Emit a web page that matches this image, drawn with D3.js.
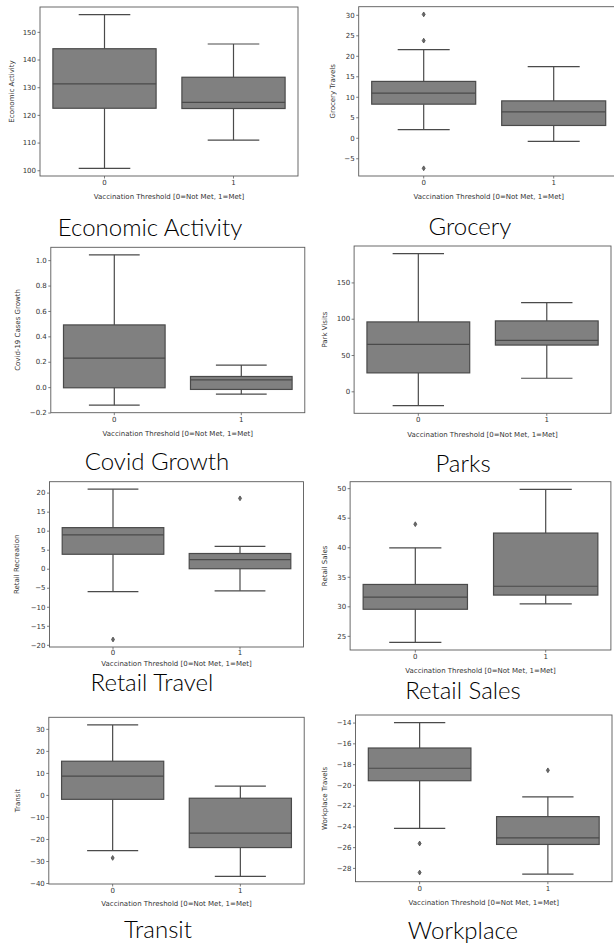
<!DOCTYPE html>
<html>
<head>
<meta charset="utf-8">
<script src="https://cdn.jsdelivr.net/npm/d3@7"></script>
<style>
  html, body { margin: 0; padding: 0; background: #ffffff; }
  svg { display: block; }
</style>
</head>
<body>
<svg id="chart" width="614" height="948"></svg>
<script>
// ---------------- DATA ----------------
const panelTitles = ["Economic Activity", "Grocery", "Covid Growth", "Parks",
                     "Retail Travel", "Retail Sales", "Transit", "Workplace"];
const yAxisLabels = ["Economic Activity", "Grocery Travels", "Covid-19 Cases Growth", "Park Visits",
                     "Retail Recreation", "Retail Sales", "Transit", "Workplace Travels"];
const categories = ["0", "1"];
const xAxisLabel = "Vaccination Threshold [0=Not Met, 1=Met]";

// box stats per panel, per category: [lower whisker, Q1, median, Q3, upper whisker]
const economicStats   = [[100.7, 122.4, 131.2, 143.9, 156.2], [110.9, 122.3, 124.5, 133.6, 145.6]];
const groceryStats    = [[2.0, 8.2, 10.9, 13.75, 21.5], [-0.9, 3.0, 6.3, 9.0, 17.35]];
const covidStats      = [[-0.142, -0.005, 0.229, 0.49, 1.042], [-0.055, -0.018, 0.058, 0.084, 0.174]];
const parksStats      = [[-19.8, 25.4, 64.7, 95.6, 189.7], [18.0, 63.7, 70.2, 97.0, 122.3]];
const retailTravStats = [[-6.0, 3.8, 8.9, 10.8, 20.9], [-5.8, 0.0, 2.4, 4.0, 5.9]];
const retailSaleStats = [[23.9, 29.5, 31.55, 33.7, 39.9], [30.4, 31.9, 33.4, 42.4, 49.8]];
const transitStats    = [[-25.3, -2.0, 8.5, 15.3, 31.8], [-37.0, -23.9, -17.3, -1.5, 4.0]];
const workplaceStats  = [[-24.2, -19.6, -18.4, -16.45, -14.0], [-28.6, -25.74, -25.1, -23.06, -21.15]];

// outliers per panel, per category
const economicOut   = [[], []];
const groceryOut    = [[30.1, 23.7, -7.45], []];
const covidOut      = [[], []];
const parksOut      = [[], []];
const retailTravOut = [[-18.6], [18.5]];
const retailSaleOut = [[43.9], []];
const transitOut    = [[-28.6], []];
const workplaceOut  = [[-25.65, -28.45], [-18.6]];

// y tick labels per panel
const economicTicks   = [100, 110, 120, 130, 140, 150];
const groceryTicks    = [-5, 0, 5, 10, 15, 20, 25, 30];
const covidTicks      = [-0.2, 0.0, 0.2, 0.4, 0.6, 0.8, 1.0];
const parksTicks      = [0, 50, 100, 150];
const retailTravTicks = [-20, -15, -10, -5, 0, 5, 10, 15, 20];
const retailSaleTicks = [25, 30, 35, 40, 45, 50];
const transitTicks    = [-40, -30, -20, -10, 0, 10, 20, 30];
const workplaceTicks  = [-28, -26, -24, -22, -20, -18, -16, -14];

const allStats = [economicStats, groceryStats, covidStats, parksStats, retailTravStats, retailSaleStats, transitStats, workplaceStats];
const allOut   = [economicOut, groceryOut, covidOut, parksOut, retailTravOut, retailSaleOut, transitOut, workplaceOut];
const allTicks = [economicTicks, groceryTicks, covidTicks, parksTicks, retailTravTicks, retailSaleTicks, transitTicks, workplaceTicks];
const tickFormats = ["d", "d", ".1f", "d", "d", "d", "d", "d"];

// ---------------- LAYOUT ----------------
// plot frame [x0, y0, x1, y1], y-label x, x-label offset, title centre [x, y]
const layout = [
  { frame: [40, 7, 298, 176],           ylx: 12,  xlo: 21, tp: 1.5, title: [150, 228] },
  { frame: [358.7, 6.7, 618.7, 176],    ylx: 333, xlo: 21, tp: 1.5, title: [470, 227] },
  { frame: [50.8, 247.3, 304.8, 412.7], ylx: 18,  xlo: 21, tp: 1.5, title: [157, 462] },
  { frame: [354.1, 246, 611, 413.3],    ylx: 325, xlo: 21, tp: 1.5, title: [463, 464] },
  { frame: [49.5, 481.7, 303.5, 647],   ylx: 17,  xlo: 17, tp: 0.5, title: [152, 683] },
  { frame: [350.1, 481.7, 610.9, 650],  ylx: 325, xlo: 21, tp: 1.5, title: [463, 691] },
  { frame: [48.8, 717.3, 304.2, 884],   ylx: 18,  xlo: 20, tp: 1.5, title: [158, 930] },
  { frame: [355.5, 715, 612, 881.7],    ylx: 325, xlo: 21, tp: 1.5, title: [463, 931] }
];

const FILL = "#808080", EDGE = "#4a4a4a", FRAME = "#5a5a5a", TXT = "#333333";
const svg = d3.select("#chart");

panelTitles.forEach((title, i) => {
  const L = layout[i];
  const [x0, y0, x1, y1] = L.frame;
  const stats = allStats[i], outs = allOut[i];

  // matplotlib-like autoscale: data range with 5% margins
  const vals = stats.flat().concat(outs.flat());
  const lo = d3.min(vals), hi = d3.max(vals), m = (hi - lo) * 0.05;
  const y = d3.scaleLinear().domain([lo - m, hi + m]).range([y1, y0]);
  const x = d3.scaleBand().domain(categories).range([x0, x1]).padding(0);
  const bw = x.bandwidth() * 0.8;
  const cw = bw / 2;

  const g = svg.append("g");

  // y axis
  const ya = g.append("g").attr("transform", `translate(${x0},0)`)
    .call(d3.axisLeft(y).tickValues(allTicks[i]).tickFormat(d3.format(tickFormats[i])).tickSize(2.5).tickPadding(1.5));
  ya.select(".domain").remove();
  ya.selectAll("line").attr("stroke", FRAME).attr("stroke-width", 0.8);
  ya.selectAll("text").attr("fill", TXT).style("font-family", "DejaVu Sans").style("font-size", "7px");

  // x axis
  const xa = g.append("g").attr("transform", `translate(0,${y1})`)
    .call(d3.axisBottom(x).tickSize(2.5).tickPadding(L.tp));
  xa.select(".domain").remove();
  xa.selectAll("line").attr("stroke", FRAME).attr("stroke-width", 0.8);
  xa.selectAll("text").attr("fill", TXT).style("font-family", "DejaVu Sans").style("font-size", "7px");

  // boxes
  categories.forEach((c, j) => {
    const [wl, q1, med, q3, wh] = stats[j];
    const cx = x(c) + x.bandwidth() / 2;
    const bg = g.append("g");
    bg.append("line").attr("x1", cx).attr("x2", cx).attr("y1", y(q3)).attr("y2", y(wh))
      .attr("stroke", EDGE).attr("stroke-width", 1.2);
    bg.append("line").attr("x1", cx).attr("x2", cx).attr("y1", y(q1)).attr("y2", y(wl))
      .attr("stroke", EDGE).attr("stroke-width", 1.2);
    bg.append("line").attr("x1", cx - cw / 2).attr("x2", cx + cw / 2).attr("y1", y(wh)).attr("y2", y(wh))
      .attr("stroke", EDGE).attr("stroke-width", 1.2);
    bg.append("line").attr("x1", cx - cw / 2).attr("x2", cx + cw / 2).attr("y1", y(wl)).attr("y2", y(wl))
      .attr("stroke", EDGE).attr("stroke-width", 1.2);
    bg.append("rect").attr("x", cx - bw / 2).attr("width", bw)
      .attr("y", y(q3)).attr("height", y(q1) - y(q3))
      .attr("fill", FILL).attr("stroke", EDGE).attr("stroke-width", 1.2);
    bg.append("line").attr("x1", cx - bw / 2).attr("x2", cx + bw / 2).attr("y1", y(med)).attr("y2", y(med))
      .attr("stroke", EDGE).attr("stroke-width", 1.2);
    // outliers (thin diamonds)
    bg.selectAll("path.out").data(outs[j]).join("path")
      .attr("class", "out")
      .attr("transform", d => `translate(${cx},${y(d)})`)
      .attr("d", "M0,-2.4L1.5,0L0,2.4L-1.5,0Z")
      .attr("fill", "#6a6a6a").attr("stroke", EDGE).attr("stroke-width", 0.8);
  });

  // frame
  g.append("rect").attr("x", x0).attr("y", y0).attr("width", x1 - x0).attr("height", y1 - y0)
    .attr("fill", "none").attr("stroke", FRAME).attr("stroke-width", 0.9);

  // axis labels
  g.append("text").attr("x", (x0 + x1) / 2).attr("y", y1 + L.xlo).attr("dy", "0.35em")
    .attr("text-anchor", "middle").attr("fill", TXT)
    .style("font-family", "DejaVu Sans").style("font-size", "7px").text(xAxisLabel);
  g.append("text").attr("transform", `translate(${L.ylx},${(y0 + y1) / 2}) rotate(-90)`)
    .attr("dy", "0.35em").attr("text-anchor", "middle").attr("fill", TXT)
    .style("font-family", "DejaVu Sans").style("font-size", "7px").text(yAxisLabels[i]);

  // panel title
  svg.append("text").attr("x", L.title[0]).attr("y", L.title[1]).attr("dy", "0.35em")
    .attr("text-anchor", "middle").attr("fill", "#000")
    .style("font-family", "Lato").style("font-weight", "300").style("font-size", "24px").text(title);
});
</script>
</body>
</html>
